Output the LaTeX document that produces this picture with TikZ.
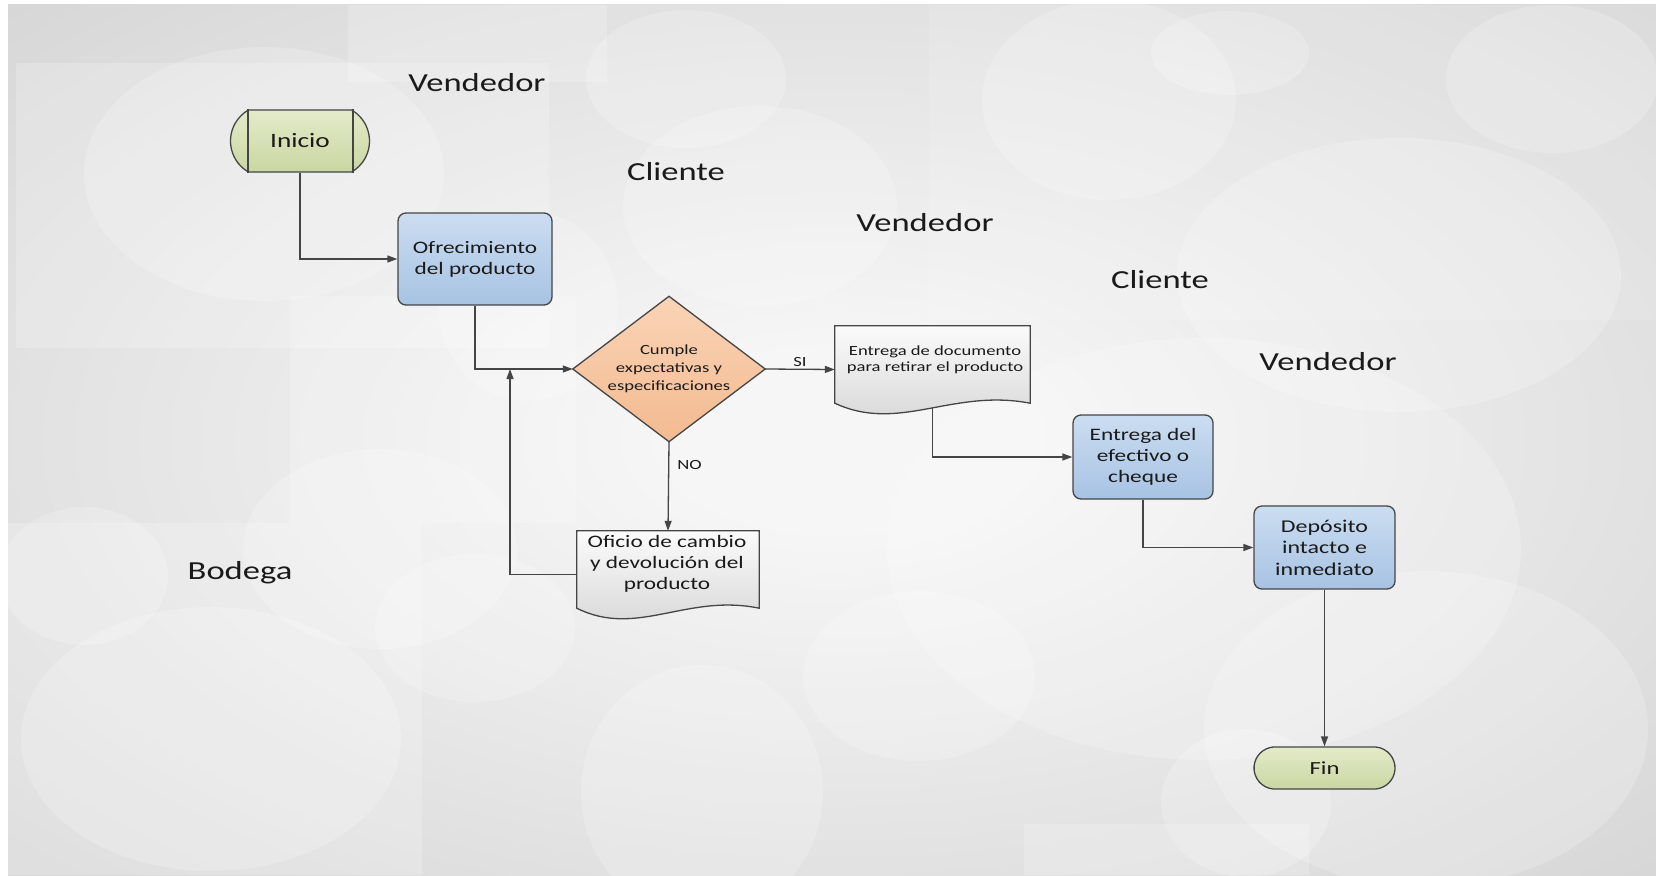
\documentclass[tikz,border=0pt]{standalone}
\usepackage{fontspec}
\setmainfont{Carlito}[FakeStretch=1.33]
\usetikzlibrary{arrows.meta,calc,shapes.misc}
\definecolor{linec}{HTML}{454545}
\definecolor{txt}{HTML}{1A1A1A}
\definecolor{greenT}{HTML}{E3EBC9}
\definecolor{greenB}{HTML}{C9D7A2}
\definecolor{blueT}{HTML}{CBDDF1}
\definecolor{blueB}{HTML}{A7C3E3}
\definecolor{orT}{HTML}{FAD4B6}
\definecolor{orB}{HTML}{F3BA90}
\definecolor{docT}{HTML}{FBFBFB}
\definecolor{docB}{HTML}{D4D4D4}
\definecolor{bgin}{HTML}{F6F6F6}
\definecolor{bgmid}{HTML}{D2D2D2}
\definecolor{bgout}{HTML}{B6B6B6}
\pgfdeclareradialshading{bgshade}{\pgfpoint{0bp}{0bp}}{color(0bp)=(bgin); color(5bp)=(bgin); color(40bp)=(bgmid); color(72bp)=(bgout)}
\pgfdeclarelayer{back}
\pgfdeclarelayer{conn}
\pgfdeclarelayer{shp}
\pgfsetlayers{back,conn,shp,main}
\tikzset{
  lane/.style={font=\fontsize{26}{31}\selectfont, text=txt, inner sep=0pt},
  proc/.style={rectangle, rounded corners=8pt, draw=linec, line width=1.3pt, top color=blueT, bottom color=blueB, text=txt, align=center, font=\fontsize{17.5}{21}\selectfont, inner sep=0pt},
  term/.style={rounded rectangle, draw=linec, line width=1.3pt, top color=greenT, bottom color=greenB, text=txt, inner sep=0pt},
  anchorbox/.style={rectangle, draw=none, inner sep=0pt},
  shapefill/.style={draw=linec, line width=1.3pt},
  conline/.style={draw=linec, line width=1.3pt},
  arrline/.style={conline, -{Triangle[length=10pt,width=7pt]}},
  lbl/.style={font=\fontsize{14}{16}\selectfont, text=txt, inner sep=1pt},
  blob/.style={fill=white, fill opacity=0.2},
  panel/.style={fill=white, fill opacity=0.2},
}
\newcommand\docoutline[1]{%
  \path[shapefill, top color=docT, bottom color=docB]
    (#1.north west) -- (#1.north east) -- ($(#1.south east)+(0,-10)$)
    .. controls ($(#1.south west)!0.6!(#1.south east)+(0,-25)$) and ($(#1.south west)!0.33!(#1.south east)+(0,20)$) .. ($(#1.south west)+(0,-10)$) -- cycle;}
\begin{document}
\begin{tikzpicture}[x=1pt,y=-1pt]
\useasboundingbox (0,0) rectangle (1656,875);
\begin{pgfonlayer}{back}
\fill[white] (0,0) rectangle (1656,875);
\begin{scope}
\clip (8,5) rectangle (1656,875);
\shade[shading=bgshade] (8,5) rectangle (1656,875);
\fill[panel] (348,5) rectangle (607,82);
\fill[panel] (16,63) rectangle (549,348);
\fill[panel] (290,296) rectangle (576,523);
\fill[panel] (8,523) rectangle (422,875);
\fill[panel] (1024,824) rectangle (1309,875);
\fill[panel, fill opacity=0.12] (929,5) rectangle (1656,320);
\fill[blob] (264,174) ellipse [x radius=180, y radius=127];
\fill[blob] (686,79) ellipse [x radius=100, y radius=69];
\fill[blob] (760,206) ellipse [x radius=137, y radius=100];
\fill[blob] (1109,100) ellipse [x radius=127, y radius=100];
\fill[blob] (1230,53) ellipse [x radius=79, y radius=42];
\fill[blob] (1552,79) ellipse [x radius=106, y radius=74];
\fill[blob] (1399,275) ellipse [x radius=222, y radius=137];
\fill[blob] (1204,549) ellipse [x radius=317, y radius=211];
\fill[blob] (1426,729) ellipse [x radius=222, y radius=158];
\fill[blob] (702,792) ellipse [x radius=121, y radius=127];
\fill[blob] (919,676) ellipse [x radius=116, y radius=85];
\fill[blob] (1246,803) ellipse [x radius=85, y radius=74];
\fill[blob] (211,739) ellipse [x radius=190, y radius=132];
\fill[blob] (84,576) ellipse [x radius=84, y radius=69];
\fill[blob] (380,549) ellipse [x radius=137, y radius=100];
\fill[blob] (475,628) ellipse [x radius=100, y radius=74];
\fill[blob] (528,306) ellipse [x radius=90, y radius=95];
\end{scope}
\end{pgfonlayer}

% lane labels
\node[lane] (l1) at (477,83) {Vendedor};
\node[lane] (l2) at (676,172) {Cliente};
\node[lane] (l3) at (925,223) {Vendedor};
\node[lane] (l4) at (1160,280) {Cliente};
\node[lane] (l5) at (1328,362) {Vendedor};
\node[lane] (l6) at (240,573) {Bodega};

% nodes
\node[term, minimum width=139pt, minimum height=62pt, rounded rectangle arc length=120, font=\fontsize{20.5}{24}\selectfont] (ini) at (300,141) {Inicio};
\draw[conline] ($(ini.north)+(-52,0)$) -- ($(ini.south)+(-52,0)$);
\draw[conline] ($(ini.north)+(53,0)$) -- ($(ini.south)+(53,0)$);
\node[proc, minimum width=154pt, minimum height=92pt] (ofr) at (475,259) {Ofrecimiento\\del producto};

\node[anchorbox, minimum width=192pt, minimum height=145pt, align=center, font=\fontsize{14}{17.8}\selectfont, text=txt] (dec) at (669,369) {Cumple\\expectativas y\\especificaciones};
\node[anchorbox, minimum width=195pt, minimum height=87pt] (doc1) at (932.5,369.5) {};
\node[lbl, align=center, font=\fontsize{14}{15.7}\selectfont] (doc1t) at (935,359.5) {Entrega de documento\\para retirar el producto};
\node[anchorbox, minimum width=182pt, minimum height=87pt] (ofi) at (668,574.5) {};
\node[lbl, align=center, font=\fontsize{17.5}{21.2}\selectfont] (ofit) at (667,564) {Oficio de cambio\\y devolución del\\producto};

\node[proc, minimum width=140pt, minimum height=84pt] (efe) at (1143,457) {Entrega del\\efectivo o\\cheque};
\node[proc, minimum width=141pt, minimum height=83pt, font=\fontsize{18}{21.5}\selectfont] (dep) at (1324.5,547.5) {Depósito\\intacto e\\inmediato};
\node[term, minimum width=141pt, minimum height=42pt, rounded rectangle arc length=170, font=\fontsize{18.5}{22}\selectfont] (fin) at (1324.5,768) {Fin};

\begin{pgfonlayer}{shp}
\path[shapefill, top color=orT, bottom color=orB] (dec.north) -- (dec.east) -- (dec.south) -- (dec.west) -- cycle;
\docoutline{doc1}
\docoutline{ofi}
\end{pgfonlayer}

\coordinate (jn) at (510,369);
\begin{pgfonlayer}{conn}
\draw[arrline] (ini.south) |- (ofr.west);
\draw[arrline] (ofr.south) |- (dec.west);
\draw[arrline] (dec.east) -- node[lbl, above=1pt] (si) {SI} (doc1.west);
\draw[arrline] (dec.south) -- node[lbl, pos=0.26, right=7pt] (no) {NO} (ofi.north);
\draw[arrline] (ofi.west) -| (jn);
\draw[arrline] (doc1.center) |- (efe.west);
\draw[arrline] (efe.south) |- (dep.west);
\draw[arrline] (dep.south) -- (fin.north);
\end{pgfonlayer}
\end{tikzpicture}
\end{document}
